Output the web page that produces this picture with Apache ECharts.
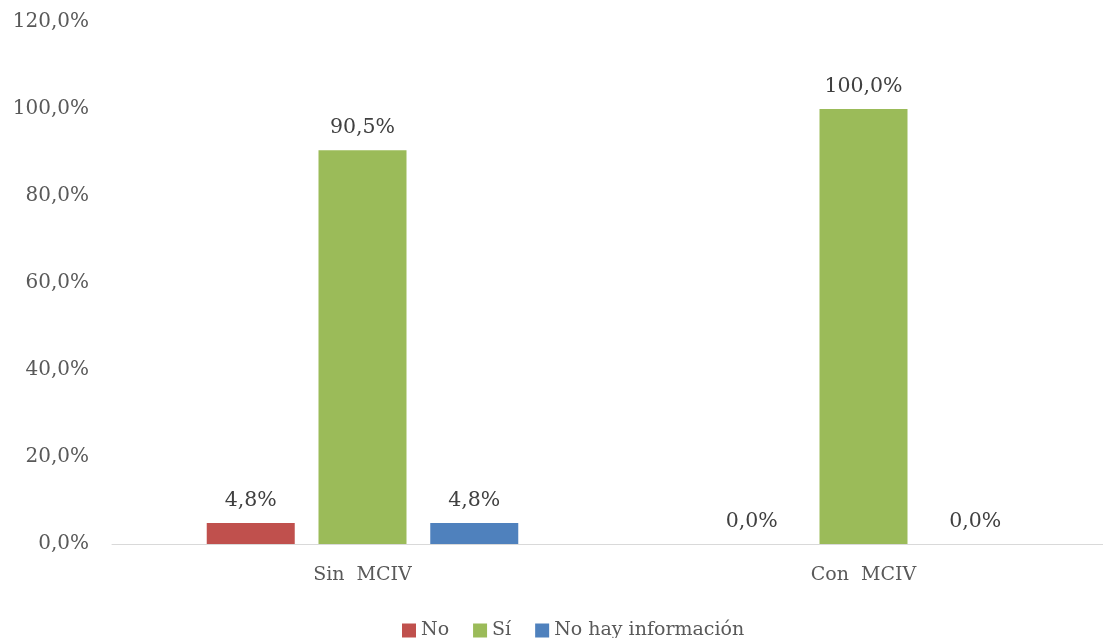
<!DOCTYPE html>
<html>
<head>
<meta charset="utf-8">
<script src="https://cdn.jsdelivr.net/npm/echarts@6/dist/echarts.min.js"></script>
<style>
  html, body { margin: 0; padding: 0; background: #fff; overflow: hidden; }
  /* plot area runs a little past the right edge of the window, as in the source */
  #chart { width: 1114px; height: 638px; }
</style>
</head>
<body>
<div id="chart"></div>
<script>
const categories = ['Sin  MCIV', 'Con  MCIV']
const seriesNames = ['No', 'Sí', 'No hay información']
const valuesNo = [4.8, 0.0]
const valuesSi = [90.5, 100.0]
const valuesNoInfo = [4.8, 0.0]
const colors = ['#c0504d', '#9bbb59', '#4f81bd']

const font = 'DejaVu Serif'
const fmt = (v) => v.toFixed(1).replace('.', ',') + '%'

const chart = echarts.init(document.getElementById('chart'))

const makeSeries = (name, data, color) => ({
  name: name,
  type: 'bar',
  data: data,
  barWidth: 88,
  barGap: '27%',
  itemStyle: { color: color },
  label: {
    show: true,
    position: 'top',
    distance: 12,
    formatter: (p) => fmt(p.value),
    color: '#404040',
    fontFamily: font,
    fontSize: 20.5
  }
})

chart.setOption({
  animation: false,
  color: colors,
  grid: { left: 112, right: 0, top: 22, bottom: 94, containLabel: false },
  legend: {
    data: seriesNames,
    top: 616,
    left: 397,
    itemWidth: 14,
    itemHeight: 14,
    itemGap: 24,
    icon: 'rect',
    textStyle: { color: '#595959', fontFamily: font, fontSize: 19 }
  },
  xAxis: {
    type: 'category',
    data: categories,
    axisLine: { lineStyle: { color: '#d9d9d9', width: 1 } },
    axisTick: { show: false },
    axisLabel: { color: '#595959', fontFamily: font, fontSize: 19, margin: 22 }
  },
  yAxis: {
    type: 'value',
    min: 0,
    max: 120,
    interval: 20,
    axisLine: { show: false },
    axisTick: { show: false },
    splitLine: { show: false },
    axisLabel: {
      formatter: (v) => fmt(v),
      color: '#595959',
      fontFamily: font,
      fontSize: 20,
      margin: 23
    }
  },
  series: [
    makeSeries(seriesNames[0], valuesNo, colors[0]),
    makeSeries(seriesNames[1], valuesSi, colors[1]),
    makeSeries(seriesNames[2], valuesNoInfo, colors[2])
  ]
})
</script>
</body>
</html>
